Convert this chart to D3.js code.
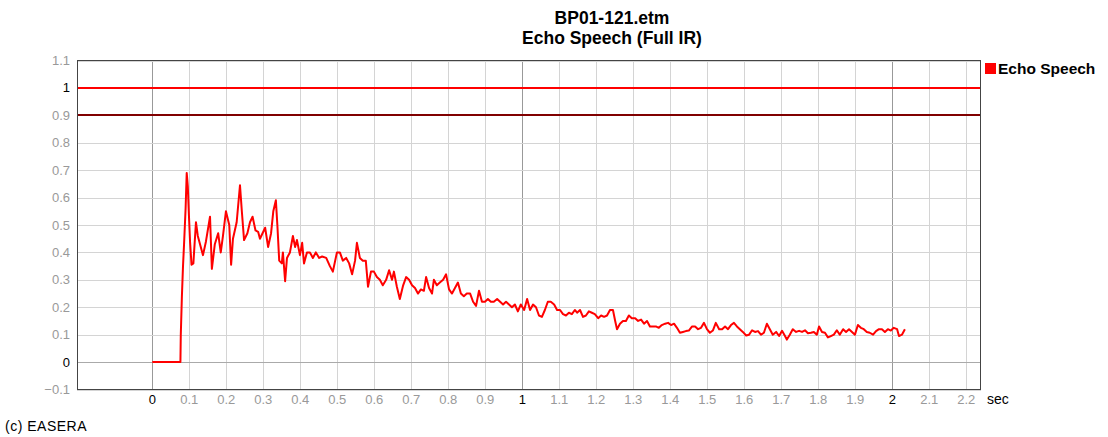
<!DOCTYPE html>
<html lang="en">
<head>
    <meta charset="UTF-8">
    <title>BP01-121.etm - Echo Speech (Full IR)</title>
    <script src="https://d3js.org/d3.v7.min.js"></script>
    <style>
        body { margin: 0; background: #fff; font-family: "Liberation Sans", Arial, sans-serif; }
        svg { display: block; }
        .tick-label { font-size: 13px; fill: #999; }
        .tick-label.major { fill: #000; }
    </style>
</head>
<body>
    <svg id="chart" width="1108" height="437"></svg>

    <script>
        // time (s) and echo speech values
        const times = [
            0, 0.076, 0.077, 0.080, 0.083, 0.086, 0.090, 0.093, 0.096, 0.099,
            0.102, 0.106, 0.111, 0.118, 0.123, 0.129, 0.137, 0.145, 0.156, 0.161,
            0.169, 0.178, 0.185, 0.191, 0.199, 0.208, 0.213, 0.218, 0.228, 0.237,
            0.242, 0.248, 0.257, 0.264, 0.271, 0.279, 0.286, 0.291, 0.305, 0.313,
            0.321, 0.327, 0.334, 0.338, 0.343, 0.350, 0.353, 0.359, 0.364, 0.372,
            0.380, 0.386, 0.391, 0.399, 0.405, 0.410, 0.418, 0.426, 0.434, 0.442,
            0.451, 0.459, 0.470, 0.480, 0.488, 0.499, 0.507, 0.515, 0.524, 0.532,
            0.540, 0.548, 0.553, 0.561, 0.569, 0.577, 0.583, 0.591, 0.599, 0.607,
            0.615, 0.623, 0.632, 0.640, 0.648, 0.653, 0.661, 0.669, 0.678, 0.686,
            0.694, 0.702, 0.710, 0.718, 0.726, 0.734, 0.740, 0.748, 0.756, 0.761,
            0.769, 0.777, 0.786, 0.794, 0.802, 0.810, 0.818, 0.826, 0.834, 0.842,
            0.850, 0.859, 0.867, 0.875, 0.883, 0.891, 0.899, 0.907, 0.915, 0.923,
            0.932, 0.940, 0.948, 0.956, 0.964, 0.972, 0.980, 0.988, 0.996, 1.005,
            1.013, 1.021, 1.029, 1.037, 1.045, 1.053, 1.061, 1.069, 1.077, 1.086,
            1.094, 1.102, 1.110, 1.118, 1.126, 1.134, 1.142, 1.148, 1.156, 1.164,
            1.172, 1.180, 1.188, 1.196, 1.205, 1.213, 1.221, 1.229, 1.237, 1.245,
            1.251, 1.256, 1.264, 1.272, 1.280, 1.288, 1.296, 1.305, 1.313, 1.321,
            1.329, 1.337, 1.345, 1.353, 1.361, 1.369, 1.377, 1.386, 1.394, 1.402,
            1.410, 1.418, 1.426, 1.434, 1.442, 1.450, 1.459, 1.467, 1.475, 1.483,
            1.491, 1.499, 1.507, 1.515, 1.523, 1.532, 1.540, 1.548, 1.556, 1.564,
            1.572, 1.580, 1.588, 1.596, 1.605, 1.613, 1.621, 1.629, 1.637, 1.645,
            1.653, 1.661, 1.669, 1.677, 1.686, 1.694, 1.702, 1.710, 1.715, 1.723,
            1.731, 1.740, 1.748, 1.756, 1.764, 1.772, 1.780, 1.788, 1.796, 1.802,
            1.810, 1.818, 1.826, 1.834, 1.842, 1.850, 1.858, 1.867, 1.875, 1.883,
            1.891, 1.899, 1.907, 1.915, 1.923, 1.931, 1.939, 1.948, 1.956, 1.964,
            1.972, 1.980, 1.988, 1.996, 2.004, 2.013, 2.018, 2.026, 2.034
        ];
        const echoSpeech = [
            0, 0, 0.10, 0.24, 0.35, 0.435, 0.56, 0.69, 0.64, 0.535,
            0.44, 0.355, 0.36, 0.51, 0.46, 0.43, 0.39, 0.44, 0.53, 0.34,
            0.43, 0.47, 0.40, 0.46, 0.55, 0.50, 0.355, 0.45, 0.51, 0.645,
            0.55, 0.445, 0.47, 0.51, 0.53, 0.48, 0.475, 0.45, 0.49, 0.42,
            0.47, 0.55, 0.59, 0.50, 0.37, 0.36, 0.40, 0.295, 0.38, 0.40,
            0.46, 0.42, 0.445, 0.39, 0.435, 0.36, 0.40, 0.40, 0.38, 0.40,
            0.38, 0.385, 0.38, 0.35, 0.33, 0.40, 0.40, 0.37, 0.38, 0.36,
            0.32, 0.37, 0.435, 0.38, 0.37, 0.37, 0.275, 0.33, 0.33, 0.31,
            0.30, 0.28, 0.30, 0.335, 0.30, 0.33, 0.275, 0.23, 0.28, 0.31,
            0.30, 0.28, 0.27, 0.25, 0.265, 0.26, 0.31, 0.27, 0.25, 0.30,
            0.28, 0.29, 0.30, 0.32, 0.265, 0.25, 0.27, 0.29, 0.25, 0.24,
            0.25, 0.25, 0.22, 0.205, 0.26, 0.22, 0.22, 0.23, 0.22, 0.22,
            0.23, 0.22, 0.21, 0.22, 0.21, 0.20, 0.21, 0.185, 0.21, 0.19,
            0.23, 0.19, 0.21, 0.20, 0.17, 0.165, 0.19, 0.22, 0.22, 0.21,
            0.19, 0.19, 0.175, 0.17, 0.18, 0.175, 0.19, 0.18, 0.19, 0.165,
            0.17, 0.185, 0.18, 0.175, 0.16, 0.17, 0.165, 0.17, 0.19, 0.19,
            0.15, 0.12, 0.14, 0.15, 0.15, 0.17, 0.16, 0.16, 0.15, 0.155,
            0.14, 0.15, 0.13, 0.13, 0.13, 0.125, 0.135, 0.14, 0.143, 0.135,
            0.14, 0.125, 0.107, 0.11, 0.113, 0.115, 0.13, 0.13, 0.12, 0.125,
            0.143, 0.12, 0.107, 0.115, 0.143, 0.12, 0.12, 0.13, 0.12, 0.135,
            0.143, 0.13, 0.12, 0.11, 0.097, 0.10, 0.116, 0.11, 0.113, 0.10,
            0.107, 0.14, 0.12, 0.10, 0.11, 0.095, 0.114, 0.095, 0.082, 0.10,
            0.12, 0.11, 0.114, 0.11, 0.116, 0.105, 0.107, 0.11, 0.10, 0.13,
            0.11, 0.107, 0.09, 0.095, 0.10, 0.116, 0.10, 0.12, 0.11, 0.12,
            0.11, 0.10, 0.135, 0.125, 0.12, 0.11, 0.107, 0.10, 0.113, 0.12,
            0.12, 0.11, 0.12, 0.115, 0.125, 0.12, 0.095, 0.10, 0.12
        ];
        const xTicks = d3.range(0, 23).map(i => i / 10);
        const yTicks = d3.range(-1, 12).map(i => i / 10);
        const limitLines = [
            { value: 1.0, color: "#ff0000" },
            { value: 0.9, color: "#800000" }
        ];
        const titleLines = ["BP01-121.etm", "Echo Speech (Full IR)"];
        const seriesName = "Echo Speech";

        const svg = d3.select("#chart");
        const plotLeft = 77, plotRight = 981, plotTop = 60.5, plotBottom = 389.5;

        const x = d3.scaleLinear().domain([-0.2035, 2.2397]).range([plotLeft, plotRight]);
        const y = d3.scaleLinear().domain([-0.1, 1.1]).range([plotBottom, plotTop]);

        const isMajor = v => Math.abs(v - Math.round(v)) < 1e-9;

        // grid
        const grid = svg.append("g");
        grid.selectAll(".vgrid")
            .data(xTicks)
            .enter().append("line")
            .attr("x1", d => Math.round(x(d)) + 0.5)
            .attr("x2", d => Math.round(x(d)) + 0.5)
            .attr("y1", plotTop).attr("y2", plotBottom)
            .attr("stroke", d => isMajor(d) ? "#999" : "#d4d4d4")
            .attr("stroke-width", 1);
        grid.selectAll(".hgrid")
            .data(yTicks)
            .enter().append("line")
            .attr("x1", plotLeft).attr("x2", plotRight)
            .attr("y1", d => Math.round(y(d)) + 0.5)
            .attr("y2", d => Math.round(y(d)) + 0.5)
            .attr("stroke", d => Math.abs(d) < 1e-9 ? "#aaa" : "#d4d4d4")
            .attr("stroke-width", 1);

        // limit lines
        svg.selectAll(".limit")
            .data(limitLines)
            .enter().append("line")
            .attr("x1", plotLeft).attr("x2", plotRight)
            .attr("y1", d => Math.round(y(d.value)))
            .attr("y2", d => Math.round(y(d.value)))
            .attr("stroke", d => d.color)
            .attr("stroke-width", 2);

        // data curve
        const line = d3.line()
            .x((d, i) => x(times[i]))
            .y(d => y(d));
        svg.append("path")
            .datum(echoSpeech)
            .attr("d", line)
            .attr("fill", "none")
            .attr("stroke", "#ff0000")
            .attr("stroke-width", 2)
            .attr("stroke-linejoin", "round");

        // frame
        svg.append("rect")
            .attr("x", plotLeft + 0.5).attr("y", plotTop)
            .attr("width", plotRight - plotLeft - 1).attr("height", plotBottom - plotTop)
            .attr("fill", "none")
            .attr("stroke", "#444");

        // tick labels
        svg.selectAll(".xlab")
            .data(xTicks)
            .enter().append("text")
            .attr("class", d => "tick-label" + (isMajor(d) ? " major" : ""))
            .attr("x", d => x(d))
            .attr("y", 404)
            .attr("text-anchor", "middle")
            .text(d => d3.format("~g")(d));
        svg.selectAll(".ylab")
            .data(yTicks)
            .enter().append("text")
            .attr("class", d => "tick-label" + (isMajor(d) ? " major" : ""))
            .attr("x", 70)
            .attr("y", d => y(d) + 4.5)
            .attr("text-anchor", "end")
            .text(d => d3.format("~g")(d));

        svg.append("text")
            .attr("x", 987).attr("y", 404)
            .style("font-size", "14px")
            .text("sec");

        // title
        svg.selectAll(".title")
            .data(titleLines)
            .enter().append("text")
            .attr("x", 612)
            .attr("y", (d, i) => 23.5 + i * 20)
            .attr("text-anchor", "middle")
            .style("font-size", "17.5px")
            .style("font-weight", "bold")
            .text(d => d);

        // legend
        svg.append("rect")
            .attr("x", 985).attr("y", 63)
            .attr("width", 11).attr("height", 11)
            .attr("fill", "#ff0000");
        svg.append("text")
            .attr("x", 998).attr("y", 74)
            .style("font-size", "15.5px")
            .style("font-weight", "bold")
            .text(seriesName);

        svg.append("text")
            .attr("x", 5).attr("y", 431)
            .style("font-size", "14px")
            .style("letter-spacing", "0.5px")
            .text("(c) EASERA");
    </script>
</body>
</html>
